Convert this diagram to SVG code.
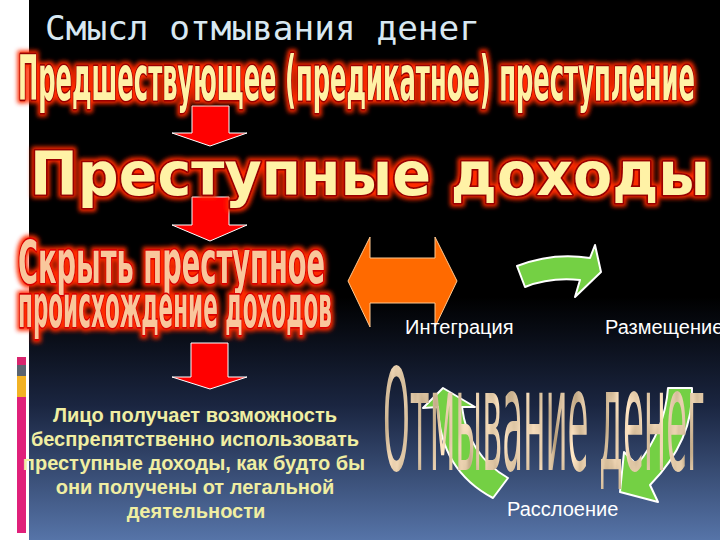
<svg xmlns="http://www.w3.org/2000/svg" width="720" height="540" viewBox="0 0 720 540">
<defs>
<linearGradient id="bg" x1="0" y1="0" x2="0" y2="1">
<stop offset="0" stop-color="#000000"/>
<stop offset="0.55" stop-color="#000000"/>
<stop offset="0.75" stop-color="#1a2540"/>
<stop offset="1" stop-color="#5674a8"/>
</linearGradient>
<filter id="glow" x="-5%" y="-40%" width="110%" height="180%">
<feMorphology in="SourceAlpha" operator="dilate" radius="2" result="d"/>
<feGaussianBlur in="d" stdDeviation="2.2" result="b"/>
<feFlood flood-color="#ff2a00"/>
<feComposite in2="b" operator="in" result="g"/>
<feMerge><feMergeNode in="g"/><feMergeNode in="SourceGraphic"/></feMerge>
</filter>
<filter id="stone" x="0" y="0" width="100%" height="100%">
<feTurbulence type="fractalNoise" baseFrequency="0.06 0.03" numOctaves="3" seed="4" result="n"/>
<feColorMatrix in="n" type="matrix" values="0.9 0 0 0 0.3  0.75 0 0 0 0.2  0.6 0 0 0 0.08  0 0 0 0 1" result="c"/>
<feComposite in="c" in2="SourceGraphic" operator="in"/>
</filter>
<style>
.wa{font-family:"DejaVu Sans Condensed","DejaVu Sans",sans-serif;font-weight:bold;paint-order:stroke;stroke-linejoin:round}
.y{fill:#fff2a6;stroke:#9a0000;stroke-width:3.5}
.p{fill:#f9c79c;stroke:#d80000;stroke-width:3.5}
.body{font-family:"Liberation Sans",Arial,sans-serif;font-weight:bold;font-size:20px;fill:#f0eea2;text-anchor:middle}
.lbl{font-family:"Liberation Sans",Arial,sans-serif;font-size:20px;fill:#ffffff}
.red{fill:#ff0000;stroke:#ffffff;stroke-width:1}
.grn{fill:#74d044;stroke:#ffffff;stroke-width:2;stroke-linejoin:round}
</style>
</defs>
<rect x="0" y="0" width="720" height="540" fill="#ffffff"/>
<rect x="29" y="0" width="691" height="540" fill="url(#bg)"/>
<g id="sidebar">
<rect x="17" y="357" width="9" height="8" fill="#d8246e"/>
<rect x="17" y="365" width="9" height="11" fill="#5a6470"/>
<rect x="17" y="376" width="9" height="21" fill="#f2b224"/>
<rect x="17" y="397" width="9" height="136" fill="#e0207a"/>
</g>
<g id="title">
<text x="45" y="40" font-family="DejaVu Sans Mono,monospace" font-size="34" fill="#d8e8f2" textLength="435" lengthAdjust="spacingAndGlyphs">Смысл отмывания денег</text>
</g>
<g id="connectors">
<path class="red" d="M192,106 H229 V133 H247 L210,146 L172,133 H192 Z"/>
<path class="red" d="M192,197 H229 V225 H247 L210,241 L172,225 H192 Z"/>
<path class="red" d="M191,343 H228 V377 H247 L210,389 L172,377 H191 Z"/>
<path d="M348,281 L370,237 V258 H435 V237 L457,281 L435,327 V303 H370 V327 Z" fill="#ff6a00" stroke="#ffc890" stroke-width="1"/>
<path class="grn" d="M517,266 Q553,252 590,258 L595,245 L601,272 L575,297 L580,280 Q550,277 525,287 Z"/>
<path class="grn" d="M443,388 L475,407 L462,407 Q468,455 508,478 L493,498 Q440,470 438,407 L423,408 Z"/>
<path class="grn" d="M668,388 H692 Q694,440 650,485 L658,502 L620,492 L624,452 L637,465 Q665,430 668,388 Z"/>
</g>
<g id="node-predicate" filter="url(#glow)">
<text class="wa y" x="18" y="100" font-size="62" textLength="677" lengthAdjust="spacingAndGlyphs">Предшествующее (предикатное) преступление</text>
</g>
<g id="node-proceeds" filter="url(#glow)">
<text class="wa y" x="30" y="195" font-size="60" textLength="680" lengthAdjust="spacingAndGlyphs">Преступные доходы</text>
</g>
<g id="node-conceal" filter="url(#glow)">
<text class="wa p" x="18" y="283" font-size="58" textLength="307" lengthAdjust="spacingAndGlyphs">Скрыть преступное</text>
<text class="wa p" x="18" y="327" font-size="58" textLength="314" lengthAdjust="spacingAndGlyphs">происхождение доходов</text>
</g>
<g id="node-result">
<text class="body" x="195" y="422">Лицо получает возможность</text>
<text class="body" x="195" y="446">беспрепятственно использовать</text>
<text class="body" x="194" y="470">преступные доходы, как будто бы</text>
<text class="body" x="195" y="494">они получены от легальной</text>
<text class="body" x="196" y="518">деятельности</text>
</g>
<g id="node-laundering">
<text transform="translate(383 470) scale(1 2.8)" x="0" y="0" font-family="DejaVu Sans Condensed,DejaVu Sans,sans-serif" font-size="50" fill="#b08a60" filter="url(#stone)" textLength="322" lengthAdjust="spacingAndGlyphs">Отмывание денег</text>
</g>
<g id="node-integration"><text class="lbl" x="405" y="334">Интеграция</text></g>
<g id="node-placement"><text class="lbl" x="605" y="334">Размещение</text></g>
<g id="node-layering"><text class="lbl" x="507" y="516">Расслоение</text></g>
</svg>
